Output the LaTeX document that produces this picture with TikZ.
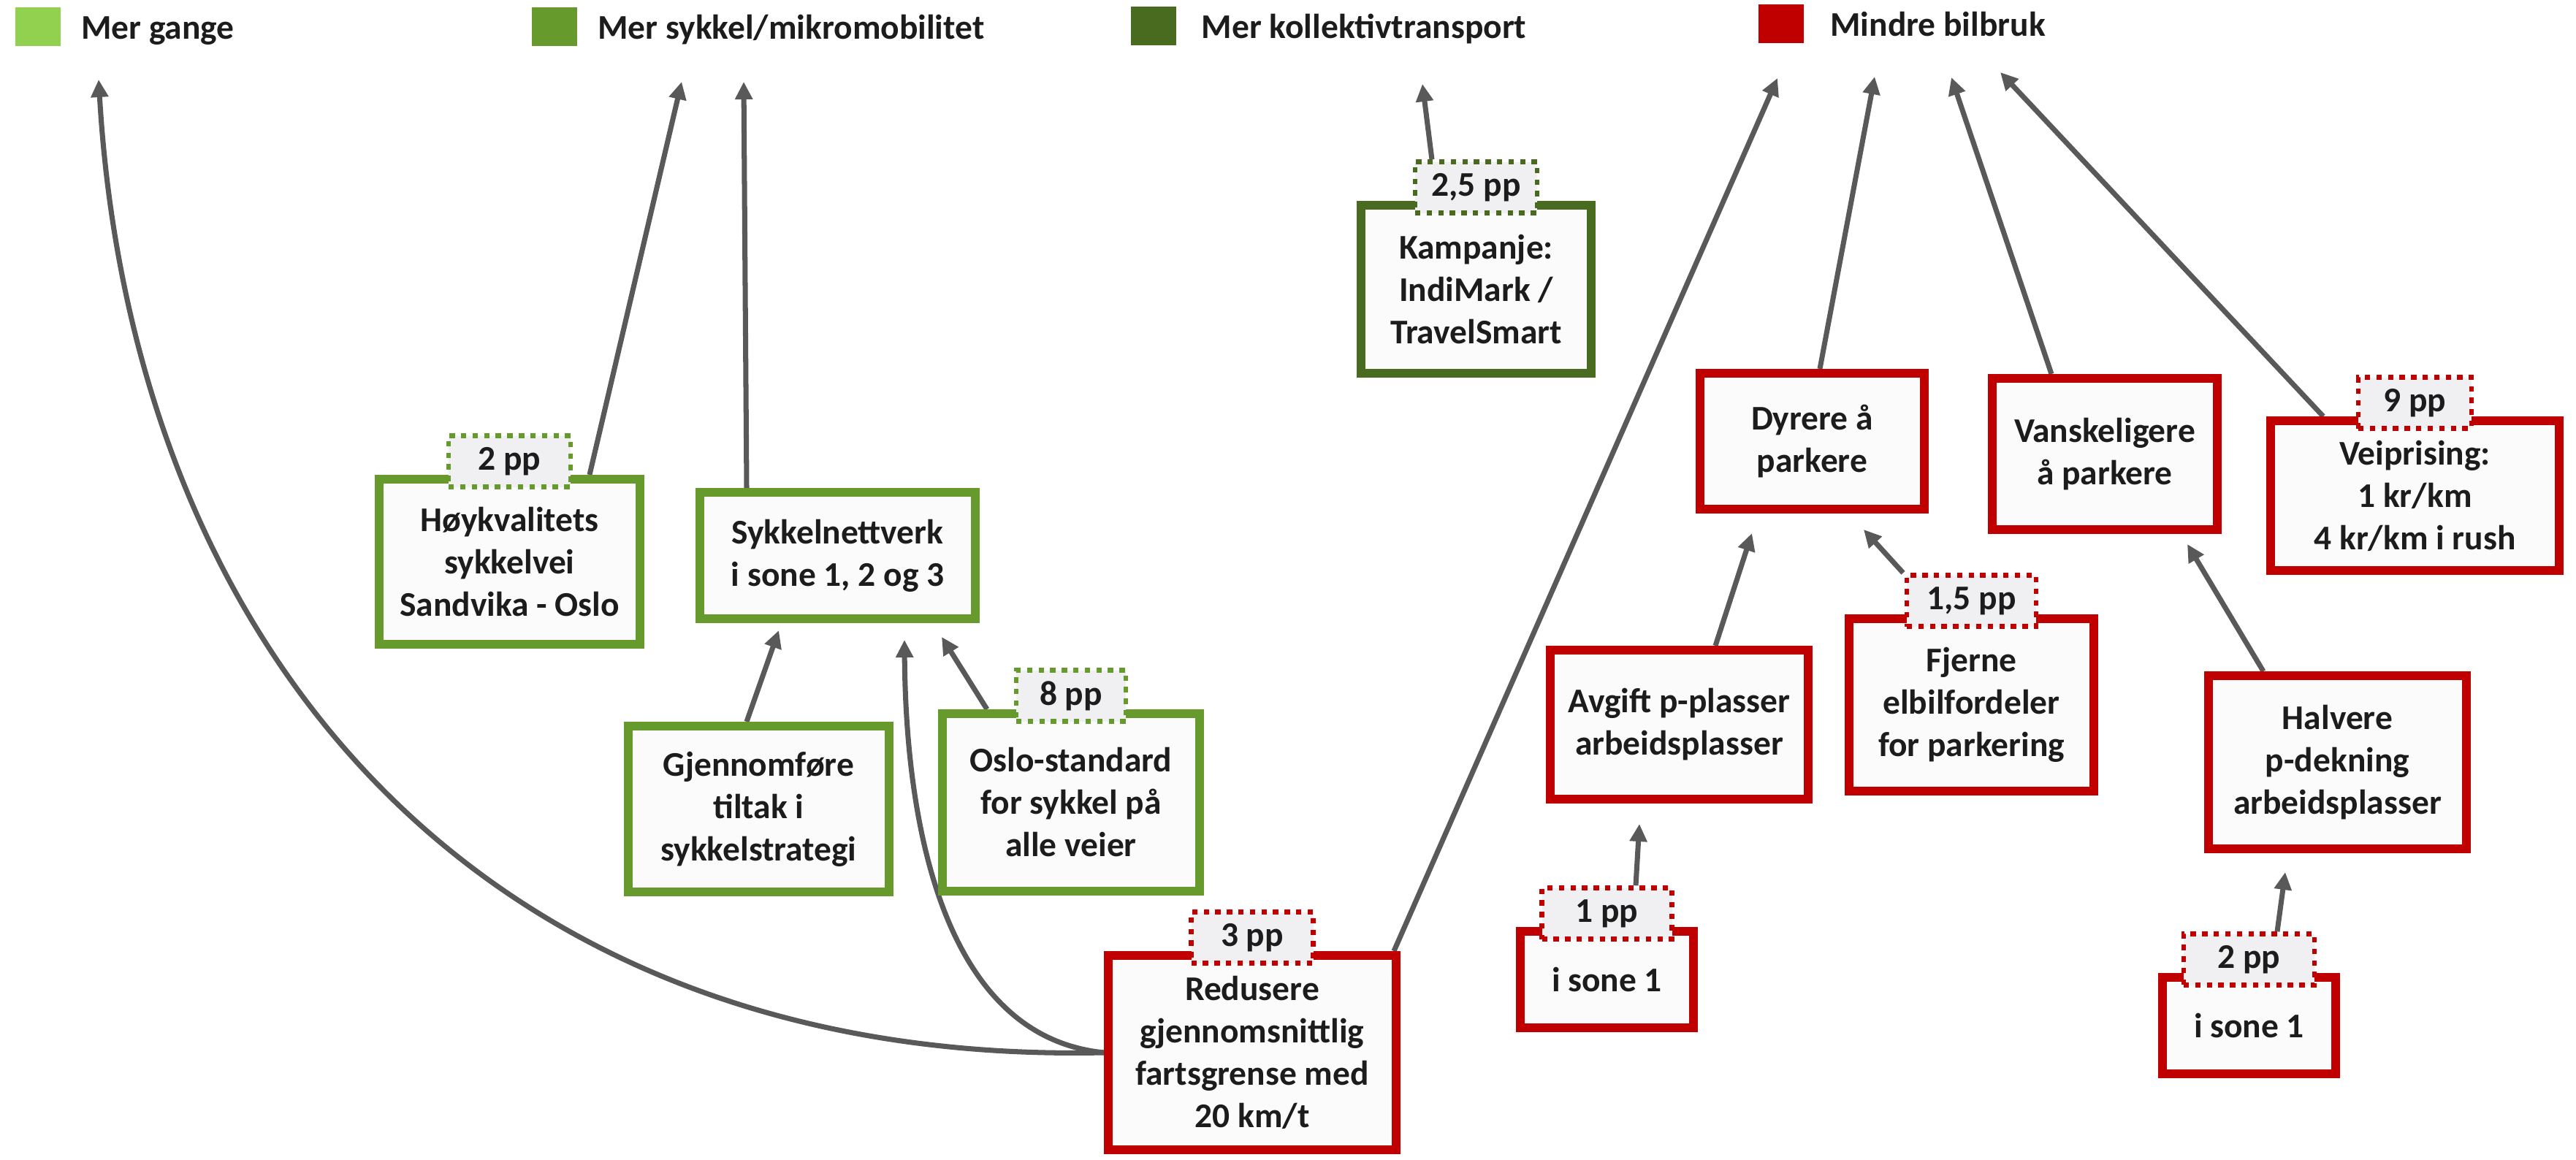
\documentclass[tikz,border=0pt]{standalone}
\usepackage{fontspec}
\setmainfont{Carlito}
\usetikzlibrary{arrows.meta,positioning,backgrounds}

\definecolor{gangegreen}{HTML}{92D050}
\definecolor{sykkelgreen}{HTML}{669A2C}
\definecolor{kollgreen}{HTML}{486B20}
\definecolor{bilred}{HTML}{C00000}
\definecolor{pilgray}{HTML}{595959}
\definecolor{boxfill}{HTML}{FBFBFB}
\definecolor{badgefill}{HTML}{F0F0F2}
\definecolor{tekst}{HTML}{1C1C1C}

\newcommand{\tiltakfont}{\bfseries\fontsize{13.5}{16.5}\selectfont}

\tikzstyle{tiltak} = [rectangle, draw, line width=0.12cm, fill=boxfill,
    text=tekst, align=center, inner sep=0pt, font=\tiltakfont]
\tikzstyle{badge} = [rectangle, draw, line width=1.9pt, dash pattern=on 2.1pt off 2.4pt,
    fill=badgefill, text=tekst, minimum width=1.67cm, minimum height=0.7cm,
    inner sep=0pt, font=\tiltakfont]
\tikzstyle{legbox} = [rectangle, minimum width=0.62cm, minimum height=0.53cm, inner sep=0pt]
\tikzstyle{legtext} = [inner sep=0pt, text height=0.33cm, text depth=0.1cm,
    text=tekst, font=\tiltakfont, yshift=-0.6mm]
\tikzstyle{pil} = [draw=pilgray, line width=2pt, -{Triangle[length=2.4mm,width=2.3mm]}]

\begin{document}
\begin{tikzpicture}
    \useasboundingbox (0,0) rectangle (35.26,15.88);

    % legend
    \node[legbox, fill=gangegreen] (leg1) at (0.52,15.515) {};
    \node[legtext, right=0.27cm of leg1] (legGange) {Mer gange};
    \node[legbox, fill=sykkelgreen] (leg2) at (7.59,15.515) {};
    \node[legtext, right=0.27cm of leg2] (legSykkel) {Mer sykkel/mikromobilitet};
    \node[legbox, fill=kollgreen] (leg3) at (15.785,15.525) {};
    \node[legtext, right=0.34cm of leg3] (legKoll) {Mer kollektivtransport};
    \node[legbox, fill=bilred] (leg4) at (24.38,15.555) {};
    \node[legtext, right=0.35cm of leg4] (legBil) {Mindre bilbruk};

    \coordinate (gangeTip) at (1.35,14.79);
    \coordinate (sykkelTipA) at (9.33,14.76);
    \coordinate (sykkelTipB) at (10.18,14.76);
    \coordinate (kollTip) at (19.47,14.73);
    \coordinate (bilTipA) at (24.33,14.81);
    \coordinate (bilTipB) at (25.66,14.83);
    \coordinate (bilTipC) at (26.71,14.82);
    \coordinate (bilTipD) at (27.38,14.89);

    % sykkel
    \node[tiltak, draw=sykkelgreen, minimum width=3.57cm, minimum height=2.26cm] (hoykval) at (6.975,8.19) {Høykvalitets\\sykkelvei\\Sandvika - Oslo};
    \node[tiltak, draw=sykkelgreen, minimum width=3.77cm, minimum height=1.73cm] (nettverk) at (11.465,8.275) {Sykkelnettverk\\i sone 1, 2 og 3};
    \node[tiltak, draw=sykkelgreen, minimum width=3.57cm, minimum height=2.27cm] (gjennomf) at (10.385,4.805) {Gjennomføre\\tiltak i\\sykkelstrategi};
    \node[tiltak, draw=sykkelgreen, minimum width=3.52cm, minimum height=2.43cm] (oslostd) at (14.66,4.895) {Oslo-standard\\for sykkel på\\alle veier};

    % fart og kollektiv
    \node[tiltak, draw=bilred, minimum width=3.94cm, minimum height=2.66cm] (redusere) at (17.14,1.47) {Redusere\\gjennomsnittlig\\fartsgrense med\\20 km/t};
    \node[tiltak, draw=kollgreen, minimum width=3.15cm, minimum height=2.30cm] (kampanje) at (20.205,11.92) {Kampanje:\\IndiMark /\\TravelSmart};

    % bil
    \node[tiltak, draw=bilred, minimum width=3.07cm, minimum height=1.86cm] (dyrere) at (24.805,9.84) {Dyrere å\\parkere};
    \node[tiltak, draw=bilred, minimum width=3.08cm, minimum height=2.07cm] (vanskelig) at (28.81,9.665) {Vanskeligere\\å parkere};
    \node[tiltak, draw=bilred, minimum width=3.95cm, minimum height=2.05cm] (veipris) at (33.055,9.095) {Veiprising:\\1 kr/km\\4 kr/km i rush};
    \node[tiltak, draw=bilred, minimum width=3.53cm, minimum height=2.04cm] (avgift) at (22.985,5.96) {Avgift p-plasser\\arbeidsplasser};
    \node[tiltak, draw=bilred, minimum width=3.35cm, minimum height=2.36cm] (fjerne) at (26.985,6.23) {Fjerne\\elbilfordeler\\for parkering};
    \node[tiltak, draw=bilred, minimum width=3.53cm, minimum height=2.37cm] (halvere) at (31.995,5.445) {Halvere\\p-dekning\\arbeidsplasser};
    \node[tiltak, draw=bilred, minimum width=2.37cm, minimum height=1.32cm] (soneA) at (21.995,2.47) {i sone 1};
    \node[tiltak, draw=bilred, minimum width=2.37cm, minimum height=1.32cm] (soneB) at (30.785,1.84) {i sone 1};

    % pp badges
    \node[badge, draw=sykkelgreen, above=-0.2cm of hoykval.north] (ppHoy) {2 pp};
    \node[badge, draw=sykkelgreen, minimum width=1.5cm, above=-0.2cm of oslostd.north] (ppOslo) {8 pp};
    \node[badge, draw=bilred, above=-0.2cm of redusere.north] (ppRed) {3 pp};
    \node[badge, draw=kollgreen, above=-0.2cm of kampanje.north] (ppKamp) {2,5 pp};
    \node[badge, draw=bilred, minimum width=1.55cm, above=-0.2cm of veipris.north] (ppVei) {9 pp};
    \node[badge, draw=bilred, minimum width=1.77cm, above=-0.2cm of fjerne.north] (ppFjerne) {1,5 pp};
    \node[badge, draw=bilred, minimum width=1.78cm, above=-0.2cm of soneA.north] (ppSoneA) {1 pp};
    \node[badge, draw=bilred, minimum width=1.79cm, above=-0.2cm of soneB.north] (ppSoneB) {2 pp};

    \begin{scope}[on background layer]
    \path[pil] (redusere.west) .. controls (6.50,1.28) and (1.80,7.08) .. (gangeTip);
    \path[pil] ([xshift=1.095cm]hoykval.north) -- (sykkelTipA);
    \path[pil] ([xshift=-1.245cm]nettverk.north) -- (sykkelTipB);
    \path[pil] ([xshift=-0.165cm]gjennomf.north) -- ([xshift=-0.805cm,yshift=-0.1cm]nettverk.south);
    \path[pil] (redusere.west) .. controls (13.00,1.68) and (12.40,4.38) .. ([xshift=0.915cm,yshift=-0.23cm]nettverk.south);
    \path[pil] ([xshift=-1.15cm]oslostd.north) -- ([xshift=1.425cm,yshift=-0.19cm]nettverk.south);

    \path[pil] ([xshift=-0.605cm]ppKamp.north) -- (kollTip);

    \path[pil] ([xshift=-0.09cm]redusere.north east) -- (bilTipA);
    \path[pil] ([xshift=0.105cm]dyrere.north) -- (bilTipB);
    \path[pil] ([xshift=-0.73cm]vanskelig.north) -- (bilTipC);
    \path[pil] ([xshift=-1.255cm]veipris.north) -- (bilTipD);

    \path[pil] ([xshift=0.495cm]avgift.north) -- ([xshift=-0.825cm,yshift=-0.27cm]dyrere.south);
    \path[pil] ([xshift=-0.935cm]ppFjerne.north) -- ([xshift=0.705cm,yshift=-0.22cm]dyrere.south);
    \path[pil] ([xshift=-1.015cm]halvere.north) -- ([xshift=1.13cm,yshift=-0.14cm]vanskelig.south);
    \path[pil] ([xshift=0.395cm]ppSoneA.north) -- ([xshift=-0.545cm,yshift=-0.28cm]avgift.south);
    \path[pil] ([xshift=0.385cm]ppSoneB.north) -- ([xshift=-0.715cm,yshift=-0.26cm]halvere.south);
    \end{scope}
\end{tikzpicture}
\end{document}
